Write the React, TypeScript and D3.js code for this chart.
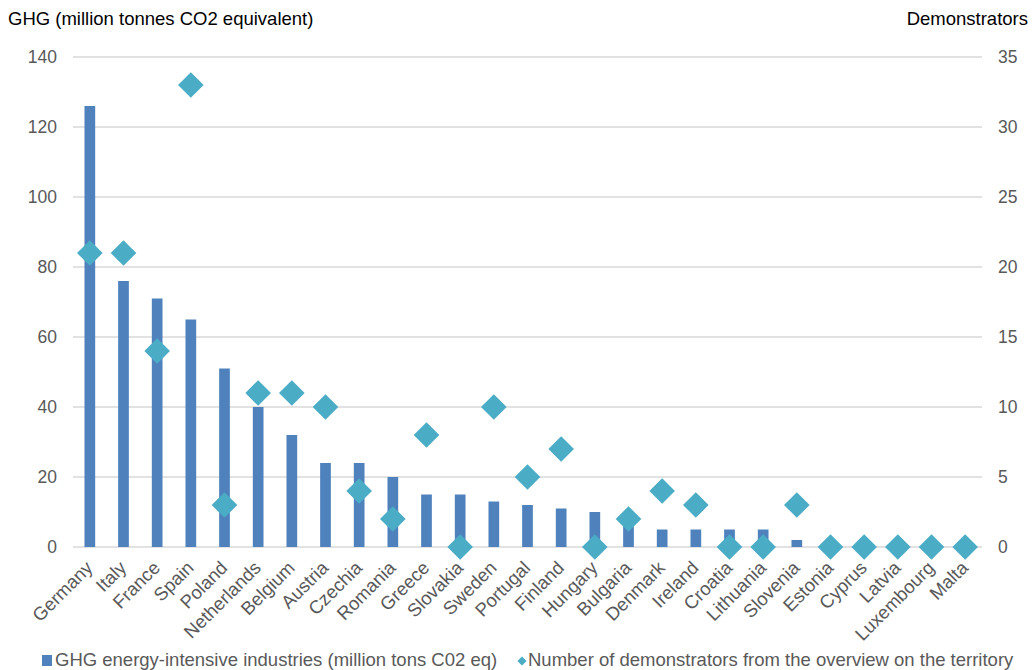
import React from "react";
import * as d3 from "d3";

const countries = [
  "Germany", "Italy", "France", "Spain", "Poland", "Netherlands", "Belgium",
  "Austria", "Czechia", "Romania", "Greece", "Slovakia", "Sweden", "Portugal",
  "Finland", "Hungary", "Bulgaria", "Denmark", "Ireland", "Croatia",
  "Lithuania", "Slovenia", "Estonia", "Cyprus", "Latvia", "Luxembourg", "Malta",
];
const ghg = [
  126, 76, 71, 65, 51, 40, 32, 24, 24, 20, 15, 15, 13, 12, 11, 10, 8, 5, 5, 5,
  5, 2, 0, 0, 0, 0, 0,
];
const demonstrators = [
  21, 21, 14, 33, 3, 11, 11, 10, 4, 2, 8, 0, 10, 5, 7, 0, 2, 4, 3, 0, 0, 3, 0,
  0, 0, 0, 0,
];
const leftTicks = [0, 20, 40, 60, 80, 100, 120, 140];
const rightTicks = [0, 5, 10, 15, 20, 25, 30, 35];

const W = 1034;
const H = 670;
const plotLeft = 73;
const plotRight = 982;
const plotTop = 57;
const plotBottom = 547;

const barColor = "#4f81bd";
const diamondColor = "#4bacc6";
const gridColor = "#d9d9d9";
const textColor = "#595959";
const font = "'Liberation Sans', Arial, sans-serif";

const App = () => {
  const x = d3.scaleBand<string>().domain(countries).range([plotLeft, plotRight]);
  const yL = d3.scaleLinear().domain([0, 140]).range([plotBottom, plotTop]);
  const yR = d3.scaleLinear().domain([0, 35]).range([plotBottom, plotTop]);
  const barW = 10.7;
  const diamond = d3.symbol().type(d3.symbolSquare).size(328)();
  const legendDiamond = d3.symbol().type(d3.symbolSquare).size(42)();
  const cx = (c: string) => (x(c) as number) + x.bandwidth() / 2;

  return (
    <svg
      width={W}
      height={H}
      style={{ position: "absolute", left: 0, top: 0, background: "#fff" }}
      fontFamily={font}
    >
      <text x={8} y={25} fontSize={18.5} fill="#000">
        GHG (million tonnes CO2 equivalent)
      </text>
      <text x={1028} y={25} fontSize={18.5} fill="#000" textAnchor="end">
        Demonstrators
      </text>

      {leftTicks.map((t) => (
        <g key={t}>
          <line
            x1={plotLeft}
            x2={plotRight}
            y1={yL(t)}
            y2={yL(t)}
            stroke={gridColor}
            strokeWidth={1.3}
          />
          <text
            x={57}
            y={yL(t)}
            dy="0.35em"
            fontSize={17.5}
            fill={textColor}
            textAnchor="end"
          >
            {t}
          </text>
        </g>
      ))}
      {rightTicks.map((t) => (
        <text key={t} x={998} y={yR(t)} dy="0.35em" fontSize={17.5} fill={textColor}>
          {t}
        </text>
      ))}

      {countries.map((c, i) => (
        <rect
          key={c}
          x={cx(c) - barW / 2}
          y={yL(ghg[i])}
          width={barW}
          height={plotBottom - yL(ghg[i])}
          fill={barColor}
        />
      ))}

      {countries.map((c, i) => (
        <path
          key={c}
          d={diamond as string}
          transform={`translate(${cx(c)},${yR(demonstrators[i])}) rotate(45)`}
          fill={diamondColor}
        />
      ))}

      {countries.map((c) => (
        <text
          key={c}
          transform={`translate(${cx(c) + 4},${569}) rotate(-45)`}
          textAnchor="end"
          fontSize={18.5}
          fill={textColor}
        >
          {c}
        </text>
      ))}

      <rect x={42} y={655} width={10} height={11} fill={barColor} />
      <text x={55} y={666} fontSize={18.5} fill={textColor}>
        GHG energy-intensive industries (million tons C02 eq)
      </text>
      <path
        d={legendDiamond as string}
        transform="translate(522,661) rotate(45)"
        fill={diamondColor}
      />
      <text x={528} y={666} fontSize={18.5} fill={textColor}>
        Number of demonstrators from the overview on the territory
      </text>
    </svg>
  );
};

export default App;
